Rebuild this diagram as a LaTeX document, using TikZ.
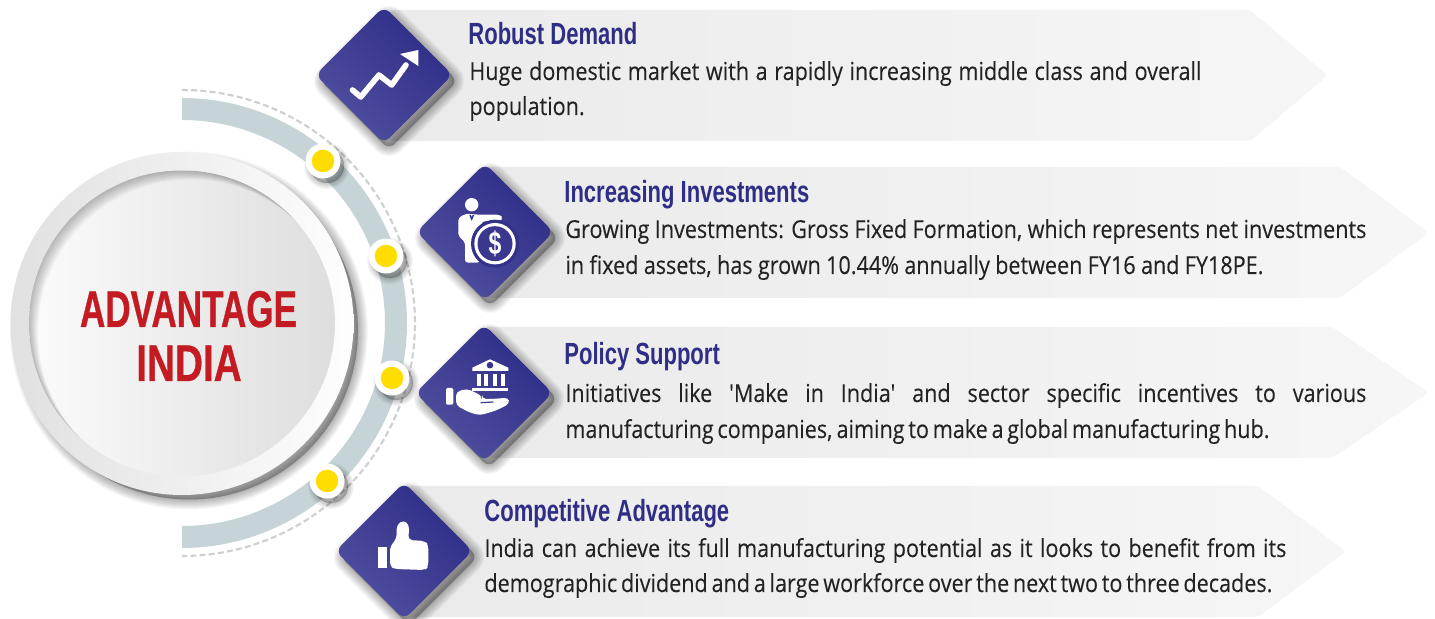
\documentclass[tikz,border=0pt]{standalone}
\usepackage{fontspec}
\setmainfont{Open Sans}
\newfontfamily\bodyfont[FakeStretch=0.87,FakeBold=0.12]{Open Sans}
\newfontfamily\headfont[FakeStretch=0.72]{Liberation Sans}
\newfontfamily\bigfont[FakeStretch=0.68,FakeBold=0.6]{Liberation Sans}
\newfontfamily\bigfontwide[FakeStretch=0.75,FakeBold=0.6]{Liberation Sans}
\definecolor{navy}{HTML}{2E2D87}
\definecolor{navyl}{HTML}{514F9F}
\definecolor{ringc}{HTML}{C6D4D7}
\definecolor{dashc}{HTML}{CFCFCF}
\definecolor{titlec}{HTML}{2E2E87}
\definecolor{bodyc}{HTML}{232323}
\definecolor{redc}{HTML}{C41A21}
\definecolor{yellowc}{HTML}{FFDD00}
\tikzset{
  bannerfill/.style={left color=black!8,right color=black!3.5,rounded corners=2pt},
  diamondfill/.style={left color=navy,right color=navyl,shading angle=-45,rounded corners=4pt},
  icon/.style={fill=white,draw=none},
  headtext/.style={anchor=base west,inner sep=0pt,text=titlec,font=\headfont\bfseries\fontsize{15.3}{18}\selectfont},
  bodytext/.style={anchor=base west,inner sep=0pt,text=bodyc,font=\bodyfont\fontsize{12.4}{15}\selectfont},
  bigtext/.style={anchor=base,inner sep=0pt,text=redc,font=\bigfont\bfseries\fontsize{25.8}{30}\selectfont},
  bigtextwide/.style={bigtext,font=\bigfontwide\bfseries\fontsize{25.8}{30}\selectfont},
}
\newcommand{\softshadow}[5]{% dx, dy, strength, widths, path
  \foreach \w in {#4}{
    \path[xshift=#1*.5pt,yshift=-#2*.5pt,fill=black,draw=black,fill opacity=#3,draw opacity=#3,line width=\w*.5pt,line join=round] #5;
  }}
\newcommand{\diapath}[2]{({#1-68.5},#2) -- (#1,{#2-68.5}) -- ({#1+68.5},#2) -- (#1,{#2+68.5}) -- cycle}
\newcommand{\banner}[5]{% left, top, bottom, shoulder, tip
  \path[bannerfill] (#1,#2) -- (#4,#2) -- (#5,{(#2+#3)/2}) -- (#4,#3) -- (#1,#3) -- cycle;}
\newcommand{\diamondbox}[2]{%
  \softshadow{5}{6}{0.03}{20,18,16,14,12,10,8,6,4,2}{[rounded corners=4pt] \diapath{#1}{#2}}
  \path[diamondfill] \diapath{#1}{#2};}
\newcommand{\dotmark}[2]{%
  \softshadow{4}{5}{0.035}{12,10,8,6,4,2,1}{(#1,#2) circle[radius=17]}
  \fill[white] (#1,#2) circle[radius=17.5];
  \fill[yellowc] (#1,#2) circle[radius=11.3];}
\newcommand{\bodyline}[5]{\node[bodytext] (#1) at (#2,#3) {\makebox[#4][s]{#5}};}
\begin{document}
\begin{tikzpicture}[x=.5pt,y=-.5pt]
\useasboundingbox (0,0) rectangle (1435,619);
\fill[white] (0,0) rectangle (1435,619);

% arcs
\draw[dashc,line width=1.05pt,dash pattern=on 3pt off 1.6pt] plot[domain=-90:90,samples=121] ({182+233*cos(\x)},{323+233*sin(\x)});
\draw[ringc,line width=11pt] plot[domain=-90:90,samples=121] ({182+214*cos(\x)},{323+214*sin(\x)});

% banners
\banner{388}{10}{141}{1250}{1328}
\banner{485}{167}{298}{1340}{1429}
\banner{484}{327}{458}{1332}{1429}
\banner{404}{486}{617}{1258}{1346}

% main disc
\softshadow{7}{7}{0.03}{20,18,16,14,12,10,8,6,4,2}{(182,323.5) circle[radius=169]}
\path[left color=black!12,right color=black!0.5] (182,323.5) circle[radius=171.5];
\begin{scope}
  \clip (182,323.5) circle[radius=153];
  \path[left color=black!1.5,right color=black!13] (182,323.5) circle[radius=153];
  \foreach \s in {0.9,1.8,2.7,3.6,4.5,5.4,6.3,7.2,8.1,9}{
    \draw[black,opacity=0.028,line width=20pt] ({182+\s},{323.5+\s}) circle[radius=173];
  }
\end{scope}

% dots
\dotmark{323}{161}
\dotmark{386}{256}
\dotmark{392}{378}
\dotmark{327}{481}

% diamonds
\diamondbox{384}{75}
\diamondbox{485}{232}
\diamondbox{484}{393}
\diamondbox{404}{551}

% icon 1: rising arrow
\draw[white,line width=2.8pt,line join=round,line cap=round] (352.5,90) -- (360.7,97) -- (379,75) -- (391.7,85) -- (406,65);
\fill[icon] (418.3,50) -- (400,54) -- (418.3,66) -- cycle;

% icon 2: person with coin
\fill[icon] (471.7,204.7) circle[radius=6.7];
\fill[icon,rounded corners=1.5pt] (458.3,218) -- (465.7,213.7) -- (479.3,214.7) -- (500,214.7) -- (503,218) -- (500,221.3) -- (481.7,221.3) -- (480,262.7) -- (465,262.7) -- (465,242) -- (458.3,236) -- cycle;
\draw[navy,line width=.7pt] (470,215) -- (471.7,219) -- (473.4,215);
\fill[navy!85!navyl] (495,243.7) circle[radius=24];
\fill[icon] (495,243.7) circle[radius=20.7];
\fill[navy!70!navyl] (495,243.7) circle[radius=17.5];
\node[anchor=center,inner sep=0pt,text=white,font=\headfont\bfseries\fontsize{16}{18}\selectfont] (dollar) at (495,243.7) {\$};

% icon 3: bank on a hand
\fill[icon] (490,359.3) -- (472.3,367.7) -- (472.3,371) -- (508.3,371) -- (508.3,367.7) -- cycle;
\fill[navy!75!navyl] (490,365.2) circle[radius=3.3];
\foreach \cx in {476.7,484.3,492.7,501}{ \fill[icon] (\cx,373.7) rectangle ({\cx+4},386.3); }
\fill[icon] (472.3,388) rectangle (508.3,391.3);
\fill[icon,rounded corners=.7pt] (446,388) rectangle (453.3,404.7);
\fill[icon,rounded corners=2pt] (456,392) -- (466.7,388.7) -- (474,391.8) -- (482,396) -- (482,399) -- (496,398.8) -- (508.3,397.5) -- (509.5,403.7) -- (496.7,410.3) -- (480,415.3) -- (470,412.7) -- (456,405.3) -- cycle;
\draw[navy!70!navyl,line width=.6pt] (480.7,402.7) -- (493.3,402);

% icon 4: thumbs up
\fill[icon] (378.3,546.7) rectangle (387.3,567.7);
\fill[icon,rounded corners=2pt] (390,546.7) -- (396.7,538.3) -- (396.7,525) -- (403.3,520) -- (409.3,525) -- (408.3,540) -- (425,541) -- (428.3,545) -- (428.3,566.7) -- (425,570) -- (395,569) -- (390,566.7) -- cycle;

% big label
\node[bigtext] (adv) at (188.5,327) {ADVANTAGE};
\node[bigtextwide] (ind) at (189,381) {INDIA};

% row 1
\node[headtext] (h1) at (468,45) {Robust Demand};
\bodyline{a1}{469}{80}{366pt}{Huge domestic market with a rapidly increasing middle class and overall}
\node[bodytext] (a2) at (469,115) {population.};
% row 2
\node[headtext] (h2) at (564,203) {Increasing Investments};
\bodyline{b1}{565}{238}{400.5pt}{Growing Investments: Gross Fixed Formation, which represents net investments}
\bodyline{b2}{565}{274}{349pt}{in fixed assets, has grown 10.44\% annually between FY16 and FY18PE.}
% row 3
\node[headtext] (h3) at (564,365) {Policy Support};
\bodyline{c1}{565}{402}{400.5pt}{Initiatives like 'Make in India' and sector specific incentives to various}
\bodyline{c2}{565}{438}{351.5pt}{manufacturing companies, aiming to make a global manufacturing hub.}
% row 4
\node[headtext] (h4) at (484,522) {Competitive Advantage};
\bodyline{d1}{484}{557}{401pt}{India can achieve its full manufacturing potential as it looks to benefit from its}
\bodyline{d2}{484}{592}{394pt}{demographic dividend and a large workforce over the next two to three decades.}
\end{tikzpicture}
\end{document}
